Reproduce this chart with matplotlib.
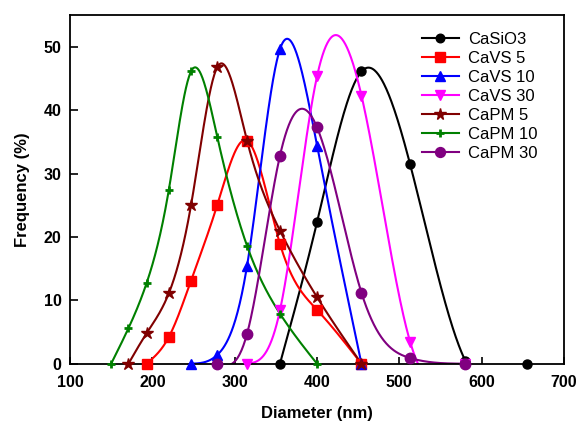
import numpy as np
import matplotlib
matplotlib.use("Agg")
import matplotlib.pyplot as plt
from matplotlib.lines import Line2D

plt.rcParams['font.family'] = ['Liberation Sans', 'DejaVu Sans']

labels = ["CaSiO3", "CaVS 5", "CaVS 10", "CaVS 30", "CaPM 5", "CaPM 10", "CaPM 30"]

casio3_x = [355, 400, 454, 513, 580, 655]
casio3_y = [0, 22.3, 46.1, 31.5, 0.5, 0]

cavs5_x = [193, 220, 247, 279, 315, 355, 400, 454]
cavs5_y = [0, 4.2, 13.1, 25.1, 35.2, 18.9, 8.5, 0]

cavs10_x = [247, 279, 315, 355, 400, 454]
cavs10_y = [0, 1.4, 15.4, 49.6, 34.4, 0]

cavs30_x = [315, 355, 400, 454, 513, 580]
cavs30_y = [0, 8.4, 45.3, 42.3, 3.5, 0]

capm5_x = [171, 193, 220, 247, 279, 315, 355, 400, 454]
capm5_y = [0, 4.8, 11.1, 25.0, 46.8, 35.2, 21.0, 10.5, 0]

capm10_x = [150, 171, 193, 220, 247, 279, 315, 355, 400]
capm10_y = [0, 5.6, 12.7, 27.4, 46.1, 35.7, 18.6, 7.9, 0]

capm30_x = [279, 315, 355, 400, 454, 513, 580]
capm30_y = [0, 4.7, 32.8, 37.3, 11.2, 0.9, 0]

xs = [casio3_x, cavs5_x, cavs10_x, cavs30_x, capm5_x, capm10_x, capm30_x]
ys = [casio3_y, cavs5_y, cavs10_y, cavs30_y, capm5_y, capm10_y, capm30_y]
colors = ["#000000", "#FF0000", "#0000FF", "#FF00FF", "#800000", "#008000", "#800080"]
markers = ["o", "s", "^", "v", "*", "+", "o"]
msizes = [6.5, 7, 7.5, 7.5, 9, 6, 7.5]
mews = [1, 1, 1, 1, 1, 2, 1]


def natural_spline(x, y, n=400):
    x = np.asarray(x, float)
    y = np.asarray(y, float)
    k = len(x)
    h = np.diff(x)
    A = np.zeros((k, k))
    b = np.zeros(k)
    A[0, 0] = 1
    A[-1, -1] = 1
    for i in range(1, k - 1):
        A[i, i - 1] = h[i - 1]
        A[i, i] = 2 * (h[i - 1] + h[i])
        A[i, i + 1] = h[i]
        b[i] = 6 * ((y[i + 1] - y[i]) / h[i] - (y[i] - y[i - 1]) / h[i - 1])
    M = np.linalg.solve(A, b)
    xx = np.linspace(x[0], x[-1], n)
    idx = np.clip(np.searchsorted(x, xx) - 1, 0, k - 2)
    x0, x1 = x[idx], x[idx + 1]
    hi = x1 - x0
    t0 = x1 - xx
    t1 = xx - x0
    yy = (M[idx] * t0 ** 3 / (6 * hi) + M[idx + 1] * t1 ** 3 / (6 * hi)
          + (y[idx] / hi - M[idx] * hi / 6) * t0
          + (y[idx + 1] / hi - M[idx + 1] * hi / 6) * t1)
    return xx, yy


fig = plt.figure(figsize=(5.77, 4.26), dpi=100)
ax = fig.add_axes([70 / 577, 1 - 363.7 / 426, 494 / 577, 348.7 / 426])

handles = []
for x, y, c, m, ms, mw, lab in zip(xs, ys, colors, markers, msizes, mews, labels):
    xx, yy = natural_spline(x, y)
    ax.plot(xx, yy, color=c, lw=1.5, zorder=2)
    ax.plot(x, y, ls="none", marker=m, ms=ms, color=c, mec=c, mew=mw,
            clip_on=False, zorder=3)
    handles.append(Line2D([], [], color=c, lw=1.5, marker=m, ms=ms * 0.95,
                          mec=c, mew=mw, label=lab))

ax.set_xlim(100, 700)
ax.set_ylim(0, 55)
ax.set_xticks(np.arange(100, 701, 100))
ax.set_yticks(np.arange(0, 51, 10))
ax.tick_params(axis="x", direction="in", length=5, width=1.2, pad=8,
               labelsize=11.5)
ax.tick_params(axis="y", direction="in", length=6, width=1.2, pad=6,
               labelsize=11.5)
for lab in ax.get_xticklabels() + ax.get_yticklabels():
    lab.set_fontweight("bold")
for s in ax.spines.values():
    s.set_linewidth(1.3)

ax.set_xlabel("Diameter (nm)", fontsize=12, fontweight="bold", labelpad=12)
ax.set_ylabel("Frequency (%)", fontsize=12, fontweight="bold", labelpad=10)

leg = ax.legend(handles=handles, loc="upper left",
                bbox_to_anchor=(0.7126, 0.952), frameon=False,
                fontsize=12, labelspacing=0.24, handlelength=2.2,
                handletextpad=0.55, borderpad=0, borderaxespad=0)

fig.savefig("out.png", dpi=100)
